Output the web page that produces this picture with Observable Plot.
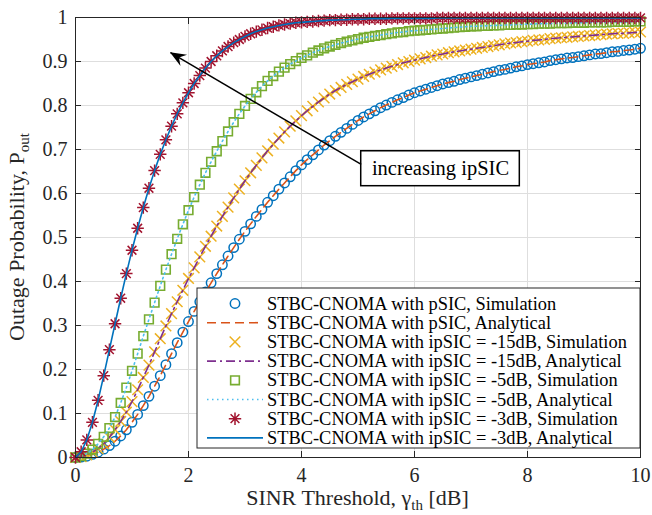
<!DOCTYPE html>
<html><head><meta charset="utf-8">
<script src="https://cdn.jsdelivr.net/npm/d3@7"></script>
<script src="https://cdn.jsdelivr.net/npm/@observablehq/plot@0.6"></script>
<style>body{margin:0;background:#fff} #chart{width:652px;height:515px}</style>
</head><body><div id="chart"></div>
<script>
// SINR threshold (dB)
const snr = [0,0.1,0.2,0.3,0.4,0.5,0.6,0.7,0.8,0.9,
1,1.1,1.2,1.3,1.4,1.5,1.6,1.7,1.8,1.9,
2,2.1,2.2,2.3,2.4,2.5,2.6,2.7,2.8,2.9,
3,3.1,3.2,3.3,3.4,3.5,3.6,3.7,3.8,3.9,
4,4.1,4.2,4.3,4.4,4.5,4.6,4.7,4.8,4.9,
5,5.1,5.2,5.3,5.4,5.5,5.6,5.7,5.8,5.9,
6,6.1,6.2,6.3,6.4,6.5,6.6,6.7,6.8,6.9,
7,7.1,7.2,7.3,7.4,7.5,7.6,7.7,7.8,7.9,
8,8.1,8.2,8.3,8.4,8.5,8.6,8.7,8.8,8.9,
9,9.1,9.2,9.3,9.4,9.5,9.6,9.7,9.8,9.9,10];

// pSIC
const pSIC = [0.000,0.001,0.003,0.007,0.012,0.019,0.027,0.037,0.049,0.063,
0.080,0.098,0.118,0.139,0.162,0.186,0.211,0.236,0.261,0.285,
0.309,0.332,0.354,0.376,0.397,0.418,0.438,0.458,0.477,0.496,
0.514,0.531,0.548,0.564,0.580,0.595,0.610,0.624,0.638,0.652,
0.665,0.677,0.688,0.699,0.710,0.720,0.730,0.739,0.748,0.757,
0.766,0.774,0.781,0.788,0.795,0.801,0.807,0.813,0.818,0.824,
0.829,0.833,0.837,0.841,0.845,0.849,0.852,0.855,0.859,0.862,
0.865,0.868,0.871,0.874,0.877,0.880,0.882,0.885,0.888,0.890,
0.893,0.895,0.897,0.899,0.902,0.904,0.906,0.908,0.909,0.911,
0.913,0.915,0.917,0.918,0.920,0.922,0.923,0.925,0.926,0.928,0.930];

// ipSIC = -15 dB
const ipSIC15 = [0.000,0.002,0.006,0.012,0.020,0.031,0.046,0.063,0.082,0.103,
0.127,0.154,0.182,0.210,0.240,0.270,0.299,0.327,0.354,0.380,
0.407,0.431,0.456,0.480,0.503,0.526,0.548,0.569,0.590,0.610,
0.629,0.647,0.664,0.681,0.697,0.712,0.726,0.740,0.753,0.765,
0.777,0.788,0.798,0.808,0.817,0.826,0.834,0.841,0.848,0.854,
0.860,0.866,0.871,0.876,0.881,0.885,0.889,0.893,0.897,0.900,
0.903,0.906,0.909,0.912,0.915,0.917,0.920,0.922,0.924,0.926,
0.928,0.930,0.932,0.934,0.936,0.938,0.940,0.942,0.943,0.945,
0.946,0.948,0.949,0.950,0.952,0.953,0.954,0.955,0.956,0.957,
0.958,0.959,0.960,0.961,0.962,0.963,0.964,0.964,0.965,0.966,0.967];

// ipSIC = -5 dB
const ipSIC5 = [0.000,0.003,0.009,0.018,0.031,0.047,0.067,0.092,0.124,0.159,
0.197,0.236,0.276,0.314,0.352,0.390,0.427,0.462,0.497,0.530,
0.562,0.592,0.620,0.647,0.672,0.696,0.719,0.741,0.762,0.781,
0.799,0.815,0.830,0.844,0.856,0.867,0.877,0.886,0.894,0.901,
0.908,0.914,0.920,0.925,0.930,0.934,0.938,0.942,0.945,0.948,
0.951,0.954,0.956,0.958,0.960,0.962,0.964,0.966,0.967,0.969,
0.970,0.971,0.972,0.973,0.974,0.975,0.976,0.977,0.978,0.979,
0.980,0.980,0.981,0.981,0.982,0.982,0.983,0.983,0.984,0.984,
0.985,0.985,0.986,0.986,0.986,0.987,0.987,0.987,0.988,0.988,
0.988,0.989,0.989,0.989,0.989,0.990,0.990,0.990,0.990,0.991,0.991];

// ipSIC = -3 dB
const ipSIC3 = [0.000,0.013,0.040,0.080,0.130,0.186,0.245,0.304,0.362,0.418,
0.471,0.521,0.568,0.612,0.652,0.689,0.722,0.753,0.781,0.806,
0.829,0.850,0.868,0.885,0.900,0.913,0.924,0.934,0.943,0.950,
0.957,0.963,0.968,0.972,0.976,0.979,0.982,0.984,0.986,0.988,
0.989,0.990,0.991,0.992,0.993,0.994,0.994,0.995,0.995,0.996,
0.996,0.996,0.997,0.997,0.997,0.997,0.998,0.998,0.998,0.998,
0.998,0.998,0.998,0.998,0.999,0.999,0.999,0.999,0.999,0.999,
0.999,0.999,0.999,0.999,0.999,0.999,0.999,0.999,0.999,0.999,
0.999,0.999,0.999,0.999,0.999,0.999,0.999,0.999,0.999,0.999,
0.999,0.999,0.999,0.999,0.999,0.999,0.999,0.999,0.999,0.999,0.999];

const xTicks = [0,2,4,6,8,10];
const xTickLabels = ["0","2","4","6","8","10"];
const yTicks = [0,0.1,0.2,0.3,0.4,0.5,0.6,0.7,0.8,0.9,1];
const yTickLabels = ["0","0.1","0.2","0.3","0.4","0.5","0.6","0.7","0.8","0.9","1"];

const legendLabels = [
  "STBC-CNOMA with pSIC, Simulation",
  "STBC-CNOMA with pSIC, Analytical",
  "STBC-CNOMA with ipSIC = -15dB, Simulation",
  "STBC-CNOMA with ipSIC = -15dB, Analytical",
  "STBC-CNOMA with ipSIC = -5dB, Simulation",
  "STBC-CNOMA with ipSIC = -5dB, Analytical",
  "STBC-CNOMA with ipSIC = -3dB, Simulation",
  "STBC-CNOMA with ipSIC = -3dB, Analytical"
];

// annotation (data coordinates)
const annoText = "increasing ipSIC";
const annoArrow = {x1: 5.057, y1: 0.666, x2: 1.681, y2: 0.920};
const annoBox = {x1: 5.057, x2: 7.864, y1: 0.6166, y2: 0.696, tx: 6.46, ty: 0.656};

// ---- styles ----
const C = {blue:"#0072BD", orange:"#D95319", yellow:"#EDB120", purple:"#7E2F8E",
           green:"#77AC30", cyan:"#4DBEEE", red:"#A2142F", axis:"#262626", grid:"#dedede"};
const FONT = "'Liberation Serif', 'Times New Roman', serif";

const symTimes = {draw(ctx, size){ const h = Math.sqrt(size)/2;
  ctx.moveTo(-h,-h); ctx.lineTo(h,h); ctx.moveTo(-h,h); ctx.lineTo(h,-h);} };
const symAst = {draw(ctx, size){ const h = Math.sqrt(size)/2, d = h*0.7071;
  ctx.moveTo(-h,0); ctx.lineTo(h,0); ctx.moveTo(0,-h); ctx.lineTo(0,h);
  ctx.moveTo(-d,-d); ctx.lineTo(d,d); ctx.moveTo(-d,d); ctx.lineTo(d,-d);} };

const rows = ys => snr.map((x, i) => ({x, y: ys[i]}));
const dataP = rows(pSIC), data15 = rows(ipSIC15), data5 = rows(ipSIC5), data3 = rows(ipSIC3);

const series = [
  {kind:"dot", data:dataP, symbol:"circle", color:C.blue, r:4.7, sw:1.5},
  {kind:"line", data:dataP, color:C.orange, dash:"9,5", sw:1.6},
  {kind:"dot", data:data15, symbol:symTimes, color:C.yellow, r:6.0, sw:1.5},
  {kind:"line", data:data15, color:C.purple, dash:"9,4,2,4", sw:1.6},
  {kind:"dot", data:data5, symbol:"square", color:C.green, r:4.9, sw:1.6},
  {kind:"line", data:data5, color:C.cyan, dash:"1.5,3.5", sw:1.6},
  {kind:"dot", data:data3, symbol:symAst, color:C.red, r:7.0, sw:1.5},
  {kind:"line", data:data3, color:C.blue, dash:null, sw:1.6}
];

const seriesMarks = series.map(s => s.kind === "dot"
  ? Plot.dot(s.data, {x:"x", y:"y", symbol: s.symbol, r: s.r, stroke: s.color, strokeWidth: s.sw, fill: "none"})
  : Plot.line(s.data, {x:"x", y:"y", stroke: s.color, strokeWidth: s.sw, strokeDasharray: s.dash}));

const plot = Plot.plot({
  width: 652, height: 515,
  marginLeft: 75, marginRight: 12, marginTop: 17, marginBottom: 58,
  style: {fontFamily: FONT, fontSize: "20px", background: "white", color: C.axis},
  x: {domain: [0, 10]},
  y: {domain: [0, 1]},
  marks: [
    Plot.gridX(xTicks, {stroke: C.grid, strokeOpacity: 1}),
    Plot.gridY(yTicks, {stroke: C.grid, strokeOpacity: 1}),
    ...seriesMarks,
    Plot.axisX(xTicks, {anchor: "bottom", tickSize: 0, tickPadding: 10, label: null, fontSize: 20, fontFamily: FONT, fill: "#262626",
      tickFormat: d => xTickLabels[xTicks.indexOf(d)]}),
    Plot.axisY(yTicks, {anchor: "left", tickSize: 0, tickPadding: 8, label: null, fontSize: 20, fontFamily: FONT, fill: "#262626",
      tickFormat: d => yTickLabels[yTicks.indexOf(d)]}),
    Plot.axisX(xTicks, {anchor: "bottom", tickSize: -6, tickFormat: () => "", label: null, stroke: C.axis}),
    Plot.axisX(xTicks, {anchor: "top", tickSize: -6, tickFormat: () => "", label: null, stroke: C.axis}),
    Plot.axisY(yTicks, {anchor: "left", tickSize: -6, tickFormat: () => "", label: null, stroke: C.axis}),
    Plot.axisY(yTicks, {anchor: "right", tickSize: -6, tickFormat: () => "", label: null, stroke: C.axis}),
    Plot.frame({stroke: C.axis, strokeWidth: 1}),
    Plot.rect([annoBox], {x1: "x1", x2: "x2", y1: "y1", y2: "y2", fill: "white", stroke: "black", strokeWidth: 1.5}),
    Plot.text([annoBox], {x: "tx", y: "ty", text: () => annoText, fontSize: 20.5, fontFamily: FONT, fill: "black"}),
    Plot.link([annoArrow], {x1: "x1", y1: "y1", x2: "x2", y2: "y2", stroke: "black", strokeWidth: 1.5})
  ]
});
document.getElementById("chart").appendChild(plot);

const svg = d3.select(plot);
svg.selectAll("text").attr("font-family", FONT).style("font-family", FONT);
const sx = plot.scale("x"), sy = plot.scale("y");

// arrow head
{
  const tx = sx.apply(annoArrow.x2), ty = sy.apply(annoArrow.y2);
  const fx = sx.apply(annoArrow.x1), fy = sy.apply(annoArrow.y1);
  const len = Math.hypot(tx - fx, ty - fy), ux = (tx - fx)/len, uy = (ty - fy)/len;
  const nx = -uy, ny = ux, L = 16, W = 6.5;
  const pts = [[tx,ty],[tx-L*ux+W*nx, ty-L*uy+W*ny],[tx-0.65*L*ux, ty-0.65*L*uy],[tx-L*ux-W*nx, ty-L*uy-W*ny]];
  svg.append("path").attr("d", "M" + pts.map(p => p.join(",")).join("L") + "Z").attr("fill", "black");
}

// axis titles
{
  const xl = svg.append("text").attr("x", 357.5).attr("y", 505).attr("text-anchor", "middle")
    .attr("font-family", FONT).attr("font-size", 22).attr("fill", "#262626");
  xl.append("tspan").text("SINR Threshold, \u03B3");
  xl.append("tspan").attr("font-size", 15).attr("dy", 5).text("th");
  xl.append("tspan").attr("dy", -5).text(" [dB]");
  const yl = svg.append("text").attr("transform", "translate(24,237) rotate(-90)").attr("text-anchor", "middle")
    .attr("font-family", FONT).attr("font-size", 22).attr("fill", "#262626");
  yl.append("tspan").text("Outage Probability, P");
  yl.append("tspan").attr("font-size", 15).attr("dy", 5).text("out");
}

// legend
{
  const lx = 197, ly = 288, lw = 443, lh = 160, row0 = 303.5, step = 19.2;
  const g = svg.append("g").attr("text-anchor", "start");
  g.append("rect").attr("x", lx).attr("y", ly).attr("width", lw).attr("height", lh)
    .attr("fill", "white").attr("stroke", C.axis).attr("stroke-width", 1);
  series.forEach((s, i) => {
    const cy = row0 + i*step;
    if (s.kind === "dot") {
      const type = s.symbol === "circle" ? d3.symbolCircle : s.symbol === "square" ? d3.symbolSquare : s.symbol;
      const d = d3.symbol(type, Math.PI*s.r*s.r)();
      g.append("path").attr("d", d).attr("transform", `translate(235,${cy})`)
        .attr("fill", "none").attr("stroke", s.color).attr("stroke-width", s.sw);
    } else {
      const ln = g.append("line").attr("x1", 207).attr("x2", 263).attr("y1", cy).attr("y2", cy)
        .attr("stroke", s.color).attr("stroke-width", s.sw);
      if (s.dash) ln.attr("stroke-dasharray", s.dash);
    }
    g.append("text").attr("x", 267).attr("y", cy + 6).attr("text-anchor", "start").attr("font-family", FONT)
      .attr("font-size", 18.4).attr("fill", "black").text(legendLabels[i]);
  });
}
</script>
</body></html>
